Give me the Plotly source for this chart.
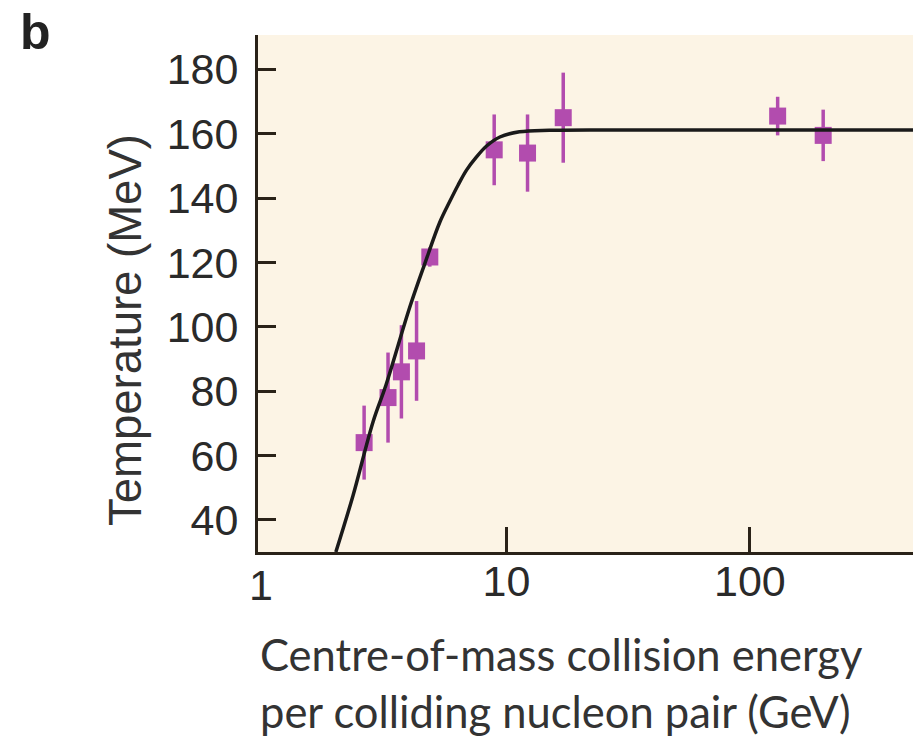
import plotly.graph_objects as go

# Data points: collision energy (GeV) vs temperature (MeV) with symmetric errors
energy = [2.6, 3.26, 3.70, 4.27, 4.84, 8.9, 12.2, 17.1, 130, 200]
temperature = [64, 78, 86, 92.5, 121.7, 155, 154, 165, 165.5, 159.5]
temp_err = [11.5, 14, 14.5, 15.5, 3, 11, 12, 14, 6, 8]

# Fitted curve
curve_energy = [1.99, 2.34, 2.83, 3.20, 4.00, 4.61, 5.32, 5.85, 6.32,
                6.85, 7.53, 8.28, 9.39, 11.3, 15.0, 30, 100, 470]
curve_temp = [30, 47.5, 70.5, 82, 106, 119.5, 132.5, 139, 144,
              148.7, 152.8, 156.2, 159.0, 160.6, 161.1, 161.2, 161.2, 161.2]

x_ticks = [10, 100]
x_tick_labels = ["10", "100"]
x_origin_label = "1"
y_ticks = [40, 60, 80, 100, 120, 140, 160, 180]

W, H = 913, 740
L, R, T, B = 258, 0, 35, 188
pw, ph = W - L - R, H - T - B

def px(xp):
    return (xp - L) / pw

def py(yp):
    return (H - B - yp) / ph

magenta = "#B24CAE"

fig = go.Figure()
fig.add_trace(go.Scatter(
    x=energy, y=temperature, mode="markers",
    marker=dict(symbol="square", size=17, color=magenta, line=dict(width=0)),
    error_y=dict(type="data", array=temp_err, visible=True, color=magenta,
                 thickness=3.5, width=0),
    showlegend=False, hoverinfo="skip",
))
fig.add_trace(go.Scatter(
    x=curve_energy, y=curve_temp, mode="lines",
    line=dict(color="#1a1a1a", width=3.5, shape="spline", smoothing=1.0),
    showlegend=False, hoverinfo="skip",
))

tick_font = dict(family="Liberation Sans, Arial, sans-serif", size=43, color="#2a2a2a")

fig.update_layout(
    width=W, height=H,
    margin=dict(l=L, r=R, t=T, b=B, pad=0),
    paper_bgcolor="white",
    plot_bgcolor="#FCF4E5",
    xaxis=dict(
        type="log", range=[-0.021, 2.670],
        tickvals=x_ticks, ticktext=x_tick_labels,
        ticks="inside", ticklen=25, tickwidth=3, tickcolor="#2a2218",
        showline=True, linewidth=3, linecolor="#2a2218",
        showgrid=False, zeroline=False,
        tickfont=tick_font, ticklabelstandoff=-11,
    ),
    yaxis=dict(
        range=[30, 190.7],
        tickvals=y_ticks,
        ticks="inside", ticklen=18, tickwidth=3, tickcolor="#2a2218",
        showline=True, linewidth=3, linecolor="#2a2218",
        showgrid=False, zeroline=False,
        tickfont=tick_font, ticklabelstandoff=8,
    ),
    annotations=[
        dict(text=x_origin_label, x=px(261), y=py(585), xref="paper", yref="paper",
             xanchor="center", yanchor="middle", showarrow=False,
             font=tick_font),
        dict(text="<b>b</b>", x=px(18), y=py(32), xref="paper", yref="paper",
             xanchor="left", yanchor="middle", showarrow=False,
             font=dict(family="Liberation Sans, Arial, sans-serif", size=50, color="#222")),
        dict(text="Temperature (MeV)", x=px(125), y=py(330), xref="paper", yref="paper",
             xanchor="center", yanchor="middle", textangle=-90, showarrow=False,
             font=dict(family="Liberation Sans, Arial, sans-serif", size=45.5, color="#333")),
        dict(text="Centre-of-mass collision energy<br>per colliding nucleon pair (GeV)",
             x=px(258), y=py(626), xref="paper", yref="paper",
             xanchor="left", yanchor="top", align="left", showarrow=False,
             font=dict(family="Lato, sans-serif", size=43.5, color="#333")),
    ],
)

fig.write_html(
    "out.html",
    config={"displayModeBar": False},
    post_script="document.body.style.margin='0';document.body.style.padding='0';"
                "document.body.style.overflow='hidden';"
                "document.documentElement.style.overflow='hidden';",
)
